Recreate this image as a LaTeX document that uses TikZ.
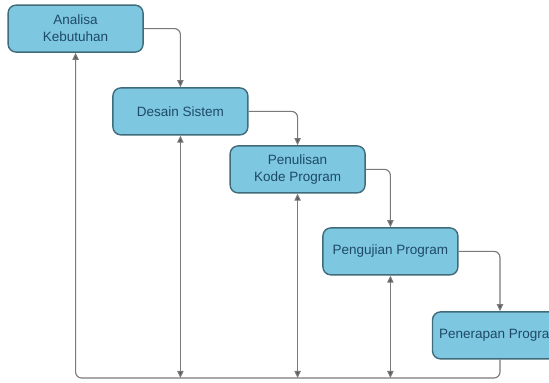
\documentclass[tikz,border=0pt]{standalone}
\usepackage{fontspec}
\setmainfont{Liberation Sans}
\usetikzlibrary{arrows.meta}

\definecolor{boxfill}{HTML}{7EC7E1}
\definecolor{boxline}{HTML}{3F6B7A}
\definecolor{boxtext}{HTML}{1E4A66}
\definecolor{linegray}{HTML}{7A7A7A}
\definecolor{tipgray}{HTML}{555555}

\begin{document}
\begin{tikzpicture}[
  stage/.style={rectangle, rounded corners=0.2cm, draw=boxline, line width=1pt, fill=boxfill,
    text=boxtext, text centered, align=center, minimum width=3.375cm, minimum height=1.175cm,
    font=\fontsize{9.6}{12}\selectfont},
  flow/.style={draw=linegray, line width=0.8pt, rounded corners=0.15cm,
    -{Triangle[length=5pt,width=4.5pt,fill=tipgray]}},
  loop/.style={draw=linegray, line width=0.8pt,
    {Triangle[length=5pt,width=4.5pt,fill=tipgray]}-{Triangle[length=5pt,width=4.5pt,fill=tipgray]}}
]

\useasboundingbox (0,0) rectangle (13.725,9.575);
\clip (0,0) rectangle (13.725,9.575);

% Stages
\node[stage] (analisa) at (1.89, 8.86) {Analisa\\Kebutuhan};
\node[stage] (desain) at (4.51, 6.79) {Desain Sistem};
\node[stage] (penulisan) at (7.44, 5.34) {Penulisan\\Kode Program};
\node[stage] (pengujian) at (9.76, 3.29) {Pengujian Program};
\node[stage] (penerapan) at (12.5, 1.19) {Penerapan Program};

% Base line of the feedback
\coordinate (base) at (0, 0.125);

% Arrows
\draw[flow] (analisa.east) -| (desain.north);
\draw[flow] (desain.east) -| (penulisan.north);
\draw[flow] (penulisan.east) -| (pengujian.north);
\draw[flow] (pengujian.east) -| (penerapan.north);

% Feedback
\draw[flow] (penerapan.south) |- (analisa.south |- base) -- (analisa.south);
\draw[loop] (desain.south |- base) -- (desain.south);
\draw[loop] (penulisan.south |- base) -- (penulisan.south);
\draw[loop] (pengujian.south |- base) -- (pengujian.south);

\end{tikzpicture}
\end{document}
